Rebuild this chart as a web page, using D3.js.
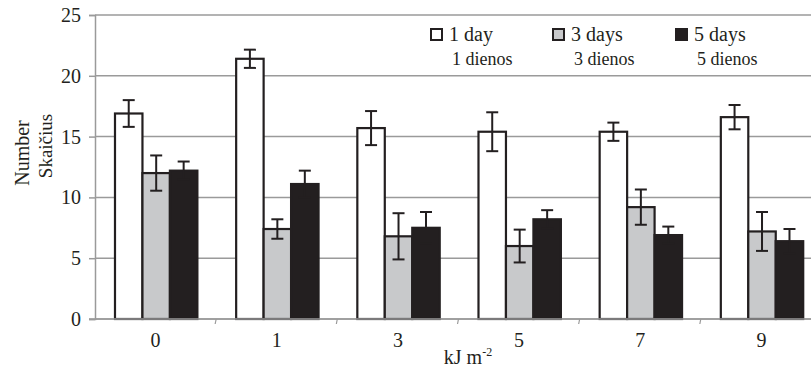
<!DOCTYPE html>
<html>
<head>
<meta charset="utf-8">
<script src="https://cdn.jsdelivr.net/npm/d3@7"></script>
<style>
  body { margin: 0; background: #fff; }
  svg { display: block; }
  svg text { font-family: "Liberation Serif", "DejaVu Serif", serif !important; }
</style>
</head>
<body>
<div id="chart"></div>
<script>
// data
var doses = ["0", "1", "3", "5", "7", "9"];
var seriesKeys = ["d1", "d3", "d5"];
var seriesNames = ["1 day", "3 days", "5 days"];
var seriesNamesLt = ["1 dienos", "3 dienos", "5 dienos"];
var day1 = [16.9, 21.4, 15.7, 15.4, 15.4, 16.6];
var day3 = [12.0, 7.4, 6.8, 6.0, 9.2, 7.2];
var day5 = [12.2, 11.1, 7.5, 8.2, 6.9, 6.4];
var day1Err = [1.1, 0.75, 1.4, 1.6, 0.75, 1.0];
var day3Err = [1.45, 0.8, 1.9, 1.35, 1.45, 1.6];
var day5Err = [0.75, 1.1, 1.3, 0.75, 0.7, 1.0];
var yTicks = [0, 5, 10, 15, 20, 25];

var values = [day1, day3, day5];
var errors = [day1Err, day3Err, day5Err];
var fills = ["#ffffff", "#c8c9cb", "#231f20"];
var ink = "#231f20";
var gridColor = "#9a9a9a";
var serif = "'Liberation Serif', 'DejaVu Serif', serif";

var width = 811, height = 371;
var margin = {top: 15, right: -11, bottom: 52, left: 95};

var svg = d3.select("#chart").append("svg")
    .attr("width", width)
    .attr("height", height);

var x0 = d3.scaleBand()
    .domain(doses)
    .range([margin.left, width - margin.right])
    .paddingInner(0)
    .paddingOuter(0);

var x1 = d3.scaleBand()
    .domain(seriesKeys)
    .range([0, x0.bandwidth() * 0.68]);

var y = d3.scaleLinear()
    .domain([0, 25])
    .range([height - margin.bottom, margin.top]);

// gridlines
svg.append("g")
    .selectAll("line")
    .data(yTicks)
    .enter().append("line")
    .attr("x1", margin.left)
    .attr("x2", width)
    .attr("y1", d => y(d))
    .attr("y2", d => y(d))
    .attr("stroke", gridColor)
    .attr("stroke-width", 1.5);

// y axis
var yAxis = svg.append("g")
    .attr("transform", "translate(" + margin.left + ",0)")
    .call(d3.axisLeft(y).tickValues(yTicks).tickSize(6).tickPadding(8))
    .attr("font-family", serif);
yAxis.select(".domain").attr("stroke", gridColor).attr("stroke-width", 1.5);
yAxis.selectAll(".tick line").attr("stroke", gridColor).attr("stroke-width", 1.5);
yAxis.selectAll("text")
    .style("font-size", "20px")
    .attr("fill", "#231f20");

// bars
var groups = svg.append("g")
    .selectAll("g")
    .data(doses)
    .enter().append("g")
    .attr("transform", d => "translate(" + (x0(d) + x0.bandwidth() * 0.165) + ",0)");

groups.selectAll("rect")
    .data((d, i) => seriesKeys.map((k, j) => ({key: k, v: values[j][i], e: errors[j][i], j: j})))
    .enter().append("rect")
    .attr("x", d => x1(d.key))
    .attr("width", x1.bandwidth())
    .attr("y", d => y(d.v))
    .attr("height", d => y(0) - y(d.v))
    .attr("fill", d => fills[d.j])
    .attr("stroke", ink)
    .attr("stroke-width", 2.2);

// error bars
var err = groups.selectAll("g.err")
    .data((d, i) => seriesKeys.map((k, j) => ({key: k, v: values[j][i], e: errors[j][i], j: j})))
    .enter().append("g")
    .attr("class", "err")
    .attr("stroke", ink)
    .attr("stroke-width", 2);

err.append("line")
    .attr("x1", d => x1(d.key) + x1.bandwidth() / 2)
    .attr("x2", d => x1(d.key) + x1.bandwidth() / 2)
    .attr("y1", d => y(d.v + d.e))
    .attr("y2", d => y(d.v - d.e));
err.append("line")
    .attr("x1", d => x1(d.key) + x1.bandwidth() / 2 - 6)
    .attr("x2", d => x1(d.key) + x1.bandwidth() / 2 + 6)
    .attr("y1", d => y(d.v + d.e))
    .attr("y2", d => y(d.v + d.e));
err.append("line")
    .attr("x1", d => x1(d.key) + x1.bandwidth() / 2 - 6)
    .attr("x2", d => x1(d.key) + x1.bandwidth() / 2 + 6)
    .attr("y1", d => y(d.v - d.e))
    .attr("y2", d => y(d.v - d.e));

// x axis
var xAxis = svg.append("g")
    .attr("transform", "translate(0," + y(0) + ")");
xAxis.append("line")
    .attr("x1", margin.left - 6)
    .attr("x2", width)
    .attr("stroke", gridColor)
    .attr("stroke-width", 1.5);
xAxis.selectAll("line.tk")
    .data(doses.slice(1))
    .enter().append("line")
    .attr("class", "tk")
    .attr("x1", d => x0(d))
    .attr("x2", d => x0(d) - 1)
    .attr("y1", 0)
    .attr("y2", 5)
    .attr("stroke", gridColor)
    .attr("stroke-width", 1.2);
xAxis.selectAll("text")
    .data(doses)
    .enter().append("text")
    .attr("x", d => x0(d) + x0.bandwidth() / 2)
    .attr("y", 28)
    .attr("text-anchor", "middle")
    .attr("font-family", serif)
    .style("font-size", "20px")
    .attr("fill", "#231f20")
    .text(d => d);

// x title
var xt = svg.append("text")
    .attr("x", 468)
    .attr("y", 364)
    .attr("text-anchor", "middle")
    .attr("font-family", serif)
    .style("font-size", "20px")
    .attr("fill", "#231f20");
xt.append("tspan").text("kJ m");
xt.append("tspan").attr("dy", -8).style("font-size", "12px").text("-2");

// y title
svg.append("text")
    .attr("transform", "translate(29,153) rotate(-90)")
    .attr("text-anchor", "middle")
    .attr("font-family", serif)
    .style("font-size", "20px")
    .attr("fill", "#231f20")
    .text("Number");
svg.append("text")
    .attr("transform", "translate(52,146) rotate(-90)")
    .attr("text-anchor", "middle")
    .attr("font-family", serif)
    .style("font-size", "19px")
    .attr("fill", "#231f20")
    .text("Skaičius");

// legend
var legendX = [431, 553, 676];
var legend = svg.append("g")
    .attr("font-family", serif)
    .selectAll("g")
    .data(seriesNames)
    .enter().append("g")
    .attr("transform", (d, i) => "translate(" + legendX[i] + ",29)");
legend.append("rect")
    .attr("width", 11)
    .attr("height", 11)
    .attr("fill", (d, i) => fills[i])
    .attr("stroke", ink)
    .attr("stroke-width", 2);
legend.append("text")
    .attr("x", 18)
    .attr("y", 12)
    .style("font-size", "20px")
    .attr("fill", "#231f20")
    .text(d => d);
legend.append("text")
    .attr("x", 21)
    .attr("y", 36)
    .style("font-size", "18px")
    .attr("fill", "#231f20")
    .text((d, i) => seriesNamesLt[i]);
</script>
</body>
</html>
